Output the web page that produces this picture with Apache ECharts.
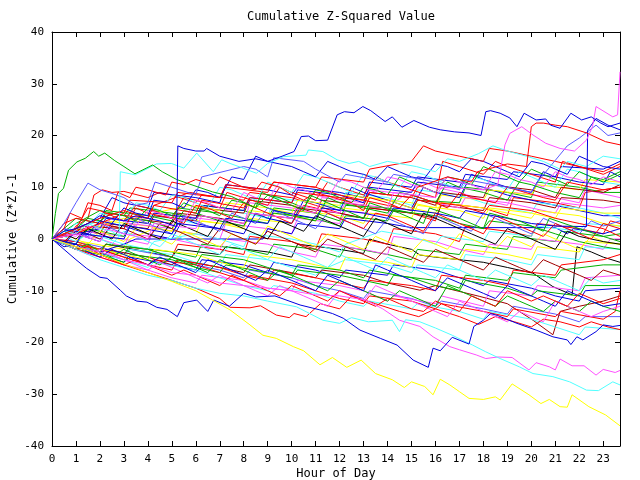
<!DOCTYPE html>
<html>
<head>
<meta charset="utf-8">
<script src="https://cdn.jsdelivr.net/npm/echarts@6/dist/echarts.min.js"></script>
<style>
  html, body { margin: 0; padding: 0; background: #fff; }
  #chart { width: 640px; height: 480px; }
</style>
</head>
<body>
<div id="chart"></div>
<script>
// x axis: hour of day, y axis: cumulative (z*z)-1, one line per day
const hourTicks = [0, 23.7];
const yTicks = [-40, 40];

// [hour, value]
const blueTop = [[0,0],[0.5,1.5],[1,2],[1.5,3],[2,4.5],[2.5,4],[3,3.5],[3.5,4.5],[4,4],[4.5,3.5],[5.2,2.4],[5.25,18],[5.5,17.5],[6,17],[6.35,17],[6.45,17.5],[7,16],[7.8,15],[8.5,15.5],[9,15],[9.6,16],[10.1,16.9],[10.4,19.8],[10.7,19.9],[11,19],[11.5,19.1],[11.9,24],[12.2,24.6],[12.6,24.4],[12.97,25.6],[13.3,24.8],[13.9,22.7],[14.2,23.6],[14.6,21.6],[15.1,22.9],[15.75,21.6],[16.2,21.1],[16.8,20.7],[17.4,20.5],[17.9,20],[18.1,24.6],[18.3,24.8],[18.7,24.3],[19.1,23.4],[19.4,21.7],[19.7,24.3],[20.2,23],[20.6,23.2],[20.8,22],[21.2,21.4],[21.65,24.3],[22.1,23],[22.5,23.6],[22.9,22.4],[23.2,21.7],[23.7,22.4]];
const greenEarly = [[0,0],[0.14,4.9],[0.27,8.8],[0.48,9.8],[0.69,13.3],[1.04,14.9],[1.39,15.6],[1.74,16.9],[1.95,16],[2.2,16.6],[2.6,15.2],[3,14],[3.46,12.6],[4.2,14.3],[4.6,13],[5.2,11.5],[5.75,10.6],[6.7,9.1],[7.5,8.2],[8.5,6],[8.75,9],[9.5,7.5],[10.5,5.5],[10.75,8.5],[12,6],[13,4],[13.25,7],[14.5,5],[15.5,3],[15.75,6],[17,4],[18,2],[18.25,5],[19.5,3.5],[20.5,1.5],[20.75,4],[22,2],[23,0.5],[23.7,-0.5]];
const yellowBottom = [[0,0],[1,-1.5],[2,-3],[3,-4.8],[4,-6.5],[5,-8.2],[6,-10],[6.7,-11.8],[7.43,-13.7],[8.26,-16.6],[8.8,-18.6],[9.36,-19.2],[10.07,-20.8],[10.5,-21.6],[11.18,-24.3],[11.7,-22.9],[12.3,-24.8],[12.9,-23.4],[13.5,-26],[14.2,-27.2],[14.7,-28.7],[15,-27.6],[15.55,-28.5],[15.9,-30.1],[16.2,-27.1],[16.6,-28.2],[17,-29.5],[17.4,-30.8],[18,-31],[18.5,-30.5],[18.7,-31.1],[19.2,-28],[19.9,-30.1],[20.4,-31.8],[20.75,-31],[21.2,-32.4],[21.5,-32.5],[21.7,-30.1],[22.4,-32.4],[23.1,-34],[23.7,-36.1]];
const blueBottom = [[0,0],[0.5,-2],[1,-4],[1.45,-5.7],[2,-7.4],[2.3,-7.6],[2.85,-9.9],[3.1,-11],[3.54,-12],[3.96,-12.2],[4.37,-13.2],[4.8,-13.6],[5.23,-15],[5.5,-12.3],[6.04,-11.8],[6.5,-14],[6.75,-11.8],[7.4,-13],[8,-10.5],[8.5,-11.2],[9.3,-11],[10.35,-12.75],[11.18,-13.7],[11.7,-14.4],[12.15,-15.3],[12.85,-17.6],[13.7,-19.2],[14.4,-20.5],[15.07,-23.4],[15.7,-24.8],[15.9,-21.1],[16.2,-21.6],[16.7,-19],[17.4,-20.3],[17.6,-16.9],[18,-15.7],[18.3,-14.4],[18.6,-14.8],[19.4,-16.3],[20.2,-17.6],[20.9,-18.9],[21.5,-19.5],[21.65,-20.4],[21.9,-18.9],[22.15,-19.5],[22.7,-17.9],[23,-16.6],[23.4,-16.9],[23.7,-16.7]];
const cyanLow = [[0,0],[1,-2],[2,-4],[3,-5.5],[4,-7],[5,-8],[6,-9.5],[7,-10.5],[8,-11],[9,-12],[10.2,-13.1],[11.3,-15.7],[12,-16.3],[12.5,-15.2],[13.2,-16],[14.2,-15.7],[14.5,-17.9],[14.75,-15.6],[15.35,-16],[16,-17.2],[16.7,-18.6],[17.55,-20.5],[18.1,-21.8],[18.7,-23.1],[19.5,-24.7],[20.07,-26],[20.9,-26.6],[21.6,-27.6],[22.3,-29.2],[22.8,-29.3],[23.4,-27.6],[23.7,-28.2]];
const magentaLow = [[0,0],[1,-1.5],[2,-2.5],[3,-4],[4,-5],[5,-6.5],[6,-7],[7,-8.5],[8,-9],[9,-9.5],[10,-10],[11,-10.8],[12,-11],[13.1,-11.8],[13.8,-13.5],[14.5,-15.7],[15.35,-16.9],[15.9,-18.9],[16.6,-20.8],[17,-21.4],[17.7,-22.4],[18.1,-23.1],[18.6,-22.8],[19.2,-22.9],[19.9,-25.3],[20.2,-23.9],[20.75,-24.7],[21,-25.3],[21.2,-23.2],[21.7,-24.5],[22.2,-24.5],[22.7,-26.3],[23,-25.2],[23.5,-25.8],[23.7,-25.4]];
const magentaTop = [[0,0],[1,1],[2,-0.5],[2.25,2],[3,1],[4,0],[4.25,3],[6,2],[6.25,4.5],[8,3],[8.25,5],[10,4],[10.25,6.5],[12,5],[12.25,7],[14,6],[14.25,9],[16,8],[16.25,10],[18,9.5],[18.6,10.5],[18.9,18.2],[19.1,20.4],[19.6,21.7],[20.07,20.1],[20.6,18.5],[21.2,17.5],[21.8,17],[22.3,19.1],[22.55,21.7],[22.7,25.6],[23.4,23.6],[23.6,24],[23.7,32.3]];
const redTopRight = [[0,0],[1,2],[2,4],[3,5.5],[4,4],[4.25,6.5],[6,5],[6.25,7.5],[8,6],[8.25,8],[10,7],[10.25,9],[12,8],[13,7.5],[13.25,9],[15,8],[15.25,10],[16.5,12],[17.5,11],[17.75,13],[19,14.5],[19.8,14],[20,21.7],[20.2,22.4],[20.5,22.4],[21,22],[21.5,21.7],[22.3,20.5],[23.1,18.8],[23.7,18.2]];
const cyanTop = [[0,0],[0.5,1.5],[1,1],[1.5,3],[2,2],[2.5,1.5],[2.8,0.5],[2.85,13],[3.47,12.4],[4.36,14.5],[4.98,14.6],[5.5,13.7],[6.04,16.6],[6.73,13],[7.08,15.3],[7.43,14.6],[7.97,13.7],[8.53,12.7],[9,14.6],[9.65,15.9],[10.6,16.2],[10.7,17.2],[11.3,16.9],[11.9,15.3],[12.4,14.6],[12.8,15],[13.25,14],[14,15],[15.2,14],[16,13],[16.5,15.5],[17,15],[17.8,16.5],[18.4,18],[19,17],[19.8,16],[20.5,15],[21.2,13.5],[21.5,15],[22.3,14],[23,16],[23.7,15.5]];
const blueRight = [[0,0],[1,-1],[1.25,1],[3,0],[3.25,2.5],[5,1],[5.25,3],[7,2],[7.25,4],[9,3],[9.25,5.5],[11,4],[11.25,6],[13,5],[14,4],[14.25,6],[16,5],[17,4],[17.25,5.5],[19,4],[20,3],[21,2.5],[22.3,2.4],[22.35,21],[22.7,23.3],[23.2,22],[23.7,21.1]];
const slateUpper = [[0,0],[0.5,3],[1,7],[1.5,10.8],[2,9.5],[2.5,8.8],[3,8],[3.5,6.5],[4,7],[4.3,11],[5,10],[6,8.5],[6.25,12],[8,14],[8.5,13.5],[9,12],[9.25,15.7],[10.5,15],[11,13.5],[12,11],[12.25,12.5],[14,11],[14.25,12.5],[16,11],[17,9.5],[17.25,11.5],[19,10],[20,9],[20.25,11],[21.5,18],[22,19.5],[22.7,22],[23.2,20],[23.7,20.5]];

// the dense middle
const red1 = [[0,0],[1,1.5],[2,3],[3,2],[3.5,6],[4,5],[5,4],[5.5,8],[6,7.5],[7,6],[7.3,9],[8,8],[9,6.5],[9.5,10],[10,9],[11,7.5],[11.5,11],[12,10],[13,8.5],[13.5,12],[14,11],[15,9.5],[16,8],[16.3,15],[17,14],[18,12.5],[18.5,15],[19,14],[20,12.5],[21,11],[21.3,15],[22,14],[23,12.5],[23.7,14]];
const green2 = [[0,0],[1,-1],[1.5,2],[2,1.5],[3,0.5],[3.5,4],[4,3.5],[5,2],[5.5,5.5],[6,5],[7,3.5],[8,2.5],[8.5,7],[9,6],[10,4.5],[11,3.5],[11.5,8],[12,7],[13,6],[14,5],[14.5,9],[15,8.5],[16,7],[16.5,11],[17,10],[18,9],[19,7.5],[19.5,11],[20,10.5],[21,9],[22,8],[22.5,12],[23,11.5],[23.7,13]];
const blue3 = [[0,0],[0.5,2],[1,1],[2,-0.5],[2.5,3],[3,2.5],[4,1],[5,0],[5.5,4],[6,3],[7,2],[8,1],[8.5,5],[9,4],[10,3],[10.5,7.5],[11,7],[12,5.5],[12.5,10],[13,9],[14,7.5],[15,6],[15.5,10],[16,9],[17,8],[17.5,12.5],[18,11.5],[19,10],[20,9],[20.5,13],[21,12],[22,11],[23,10.5],[23.3,13],[23.7,12]];
const yellow4 = [[0,0],[1,2],[2,1],[2.25,3.5],[4,2.5],[5,1.5],[5.25,4],[7,3],[8,2],[8.25,5.5],[10,4.5],[11,3.5],[11.25,6.5],[13,5.5],[13.25,8],[15,7],[16,6],[16.25,8.5],[18,7.5],[18.25,9.5],[20,8.5],[20.25,10.5],[22,9.5],[22.25,11.5],[23.7,11]];
const red5 = [[0,0],[0.5,-1],[1,2.5],[1.5,4],[1.75,8.5],[2.1,9.5],[2.5,9],[3,9.2],[4,8],[4.5,9],[5,8.5],[6,7],[6.25,8.5],[8,7.5],[8.25,9],[10,8],[11,6.5],[12,5],[13,4],[13.25,6],[15,5],[16,3.5],[16.25,7],[18,6],[19,4.5],[19.25,8],[21,7],[22,6],[22.25,9],[23.7,10]];
const green6 = [[0,0],[1,3],[2,5.5],[3,4.5],[3.25,6],[5,5],[6,4],[6.25,6.5],[8,5.5],[9,4],[9.25,6],[11,5],[12,3.5],[12.25,6.5],[14,6],[15,5],[15.25,7.5],[17,7],[17.25,10],[19,9],[20,8],[20.25,11],[22,10],[23,9],[23.7,9]];
const magenta7 = [[0,0],[1,-0.5],[1.25,1],[3,0],[4,-1],[4.25,2],[6,1],[7,0],[7.25,3],[9,2],[10,1],[10.25,4],[12,3],[12.25,5.5],[14,4.5],[14.25,7],[15.5,11],[16,10],[17,9],[18,7.5],[19,6.5],[19.25,9],[21,8],[22,7],[22.25,9.5],[23.7,8]];
const darkred8 = [[0,0],[1,1],[1.25,2.5],[3,2],[3.25,4],[5,3],[5.25,5],[7,4],[8,3],[8.25,5],[10,4],[10.25,6],[12,5],[13,4],[13.25,6],[15,5],[16,4],[16.25,6.5],[18,5.5],[18.25,8],[20,7],[21,6],[21.25,8],[23,7.5],[23.7,7]];
const black9 = [[0,0],[1,-1],[2,-2],[2.25,-1],[4,-2.5],[5,-3.5],[5.25,-2],[7,-3],[7.25,-1.5],[9,-2.5],[10,-3.5],[10.25,-1],[12,-2],[13,-2.8],[13.25,0],[14,-1],[15,-2],[15.35,-3.1],[16,-3.5],[17,-4],[18,-4.5],[19,-5.5],[20.07,-6.6],[20.9,-9.2],[21.7,-10.8],[21.9,-1.5],[22.5,-2.5],[23,-3.5],[23.7,-4.5]];
const yellow10 = [[0,0],[1,-1.5],[1.25,-0.5],[3,-2],[3.25,0],[4.25,2],[6,1],[6.25,3.5],[8,2.5],[8.25,4],[10,3],[10.25,5.5],[12,4.5],[13,3],[13.25,5],[15,4],[15.25,6.5],[17,5.5],[18,4],[18.25,6],[20,5],[21,4],[21.25,6],[23,5],[23.7,5]];
const cyan11 = [[0,0],[1,2],[2,3.5],[3,2.5],[3.25,5],[5,4],[6,3],[6.25,6],[8,5],[9,4],[9.25,8],[11,7],[12,6],[12.25,9],[14,8],[15,6.5],[15.25,9.5],[17,8.5],[18,7],[19,6],[20,5],[20.25,7],[22,6],[23,5],[23.7,4]];
const red12 = [[0,0],[1,-2],[2,-3],[2.25,-1],[4,-2],[5,-3.5],[5.25,-1],[7,-2],[8,-3],[8.25,0.5],[10,-0.5],[11,-2],[11.25,1],[13,0],[14,-1],[14.25,2],[16,1],[17,-0.5],[17.25,2.5],[19,1.5],[20,0.5],[20.25,3],[22,2],[23,1],[23.3,3.5],[23.7,3]];
const blueFlat = [[0,0],[1,-1],[2,-2.5],[3,-1],[3.5,0],[4.3,0],[8.8,0],[9,2],[10,1],[10.25,3],[12,2],[12.25,4],[14,3],[15,2.2],[21,2.2],[21.5,1],[21.75,2],[23,1],[23.7,2]];
const green14 = [[0,0],[1,-1],[2,-2],[3,-3],[3.25,-1.5],[5,-2.5],[6,-3.5],[6.25,-1],[8,-2],[9,-3],[9.25,-1],[11,-2],[12,-3.5],[12.25,-1.5],[14,-3],[15,-4],[15.25,-2],[17,-3],[17.25,-1],[19,-2],[19.25,0.5],[21,-0.5],[21.25,1.5],[23,0.5],[23.7,1]];
const magenta15 = [[0,0],[1,1],[2,0],[3,-1.5],[3.25,1],[5,0],[6,-1],[7,-2],[7.25,0],[9,-1],[10,-2.5],[11,-3.5],[11.25,-1],[13,-2],[14,-3],[14.25,0.5],[16,-0.5],[17,-2],[18,-3],[18.25,-1],[20,-2],[20.25,0],[22,-1],[23,-2],[23.3,0],[23.7,0]];
const yellow16 = [[0,0],[1,-1],[2,-2],[3,-3],[4,-4],[4.25,-2],[6,-3],[7,-4.5],[8,-5.5],[8.25,-3],[10,-4],[11,-5],[12,-6],[12.25,-3.5],[14,-4.5],[15,-5.5],[15.25,-3],[17,-4],[17.25,-2],[19,-3],[20,-4],[20.25,-1.5],[22,-2.5],[22.25,-0.5],[23.7,-1]];
const cyan17 = [[0,0],[1,-1.5],[2,-3],[3,-4],[3.25,-2],[5,-3],[6,-4.5],[7,-5.5],[7.25,-3],[9,-4],[10,-5.5],[11,-7],[11.25,-6],[12.25,-4],[14,-5],[15,-6.5],[15.25,-5],[17,-6],[17.25,-3],[19,-4],[20,-5],[20.25,-3],[22,-4],[22.25,-1.5],[23.7,-2]];
const red18 = [[0,0],[1,-0.5],[2,-2],[3,-3.5],[4,-5],[5,-6],[5.25,-4],[7,-5.5],[8,-7],[9,-8],[9.25,-6],[11,-7.5],[12,-8.5],[13,-9.5],[13.25,-8],[15,-9],[16,-10],[16.25,-7],[18,-8],[19,-9],[19.25,-6],[21,-7],[21.25,-5],[23,-4],[23.7,-3]];
const green19 = [[0,0],[1,-2],[2,-3],[3,-4.5],[3.25,-3],[5,-4],[6,-5.5],[7,-6.5],[7.25,-5],[9,-6.5],[10,-7.5],[10.25,-6],[12,-7],[13,-8],[14,-9],[14.25,-7],[16,-8],[17,-9.5],[17.25,-7],[19,-8],[19.25,-6.5],[21,-7.5],[21.25,-6],[23,-5],[23.7,-5]];
const magenta20 = [[0,0],[1,-2],[2,-3.5],[3,-5],[4,-6],[5,-7.5],[6,-8.5],[6.25,-7],[8,-8],[9,-9.5],[10,-10],[10.25,-8],[12,-9],[13,-10],[14,-12],[14.25,-11],[16,-12.5],[16.25,-11],[18,-13],[18.25,-10],[20,-11],[20.25,-9],[22,-10],[22.25,-7.5],[23.7,-7]];
const darkred21 = [[0,0],[1,-1.5],[2,-3],[2.25,-2],[4,-3.5],[5,-5],[5.25,-4],[7,-5.5],[8,-6.5],[8.25,-5],[10,-6.5],[11,-7.5],[11.25,-6],[13,-7],[14,-8.5],[15.35,-9.9],[16,-9],[17.85,-11.1],[19,-12.5],[20.07,-15.7],[20.9,-18.5],[21.2,-14],[22,-13],[23,-12],[23.7,-11]];
const red22 = [[0,0],[1,-1],[2,-2],[3,-3.5],[4,-5],[4.25,-4],[6,-5],[7,-6.5],[8,-8],[8.25,-7],[10,-8.5],[11,-10],[12,-11.5],[13,-12.5],[13.25,-11],[15,-12],[16,-13.5],[16.25,-12.5],[18,-14],[19,-15],[19.25,-13.5],[21,-15],[21.25,-14],[23,-15.5],[23.5,-14],[23.7,-10]];
const red23 = [[0,0],[1,-2],[2,-3.5],[3,-5],[4,-6.5],[5,-8],[6,-9.5],[7,-11.5],[7.43,-13.2],[8.26,-13.3],[8.7,-12.9],[9.36,-14.7],[9.9,-15.2],[10.1,-14.4],[10.6,-15],[11.2,-12.5],[12,-13.5],[12.5,-11],[13.5,-12.5],[14.5,-14],[15.3,-15],[16,-13.5],[17,-15],[17.8,-16.5],[18.5,-15],[19.3,-16],[20,-17],[20.5,-15.5],[21.2,-16],[22,-17],[22.5,-16],[23.2,-17],[23.7,-17.5]];
const slate24 = [[0,0],[1,-0.5],[2,-1.5],[3,-3],[3.25,-2],[5,-3.5],[6,-5],[7,-6],[8,-7.5],[8.25,-6],[10,-7.5],[11,-9],[12,-10],[13,-11.5],[13.25,-10],[15,-11.5],[16,-13],[16.25,-12],[18,-13.5],[19,-14.5],[19.25,-13],[21,-14.5],[22,-16],[22.25,-15],[23.7,-15]];
const cyan25 = [[0,0],[1,-1],[2,-2.5],[3,-4],[4,-5.5],[4.25,-4.5],[6,-6],[7,-7.5],[8,-9],[9,-10],[9.25,-9],[11,-10.5],[12,-12],[13,-13],[13.25,-12],[15,-13.5],[15.25,-12.5],[17,-14],[18,-15.5],[18.25,-14],[20,-15.5],[21,-17],[22,-18.5],[22.25,-17],[23.7,-17.5]];
const blue26 = [[0,0],[1,2],[2,4],[2.5,8],[3,7],[4,6],[4.25,9],[6,8],[7,7],[7.25,10.5],[9,9.5],[10,8.5],[10.25,10],[12,9],[13,8],[13.25,11],[15,10],[15.25,12],[17,11],[18,10],[19,8.5],[20,7.5],[21,6.5],[22,5.5],[23,4.5],[23.7,4.5]];
const green27 = [[0,0],[0.5,2],[1,4],[2,3],[2.25,5.5],[4,4.5],[5,3.5],[5.25,6],[7,5],[8,4],[9,3],[9.25,5],[11,4],[12,2.5],[12.25,4.5],[14,3.5],[14.25,5.5],[16,4.5],[17,3],[18,2],[18.25,3.5],[20,2.5],[21,1],[22,-0.5],[23,-1.5],[23.7,-2]];
const blue28 = [[0,0],[1,-1.5],[2,-3],[3,-4.5],[3.25,-3.5],[5,-5],[6,-6],[6.25,-4],[8,-5],[9,-6.5],[9.25,-4.5],[11,-6],[12,-7.5],[12.25,-6],[14,-7],[14.25,-5],[16,-6],[17,-7.5],[18,-9],[18.25,-8],[20,-9.5],[21,-11],[22,-12],[22.25,-10],[23.7,-9.5]];
const yellow29 = [[0,0],[1,1],[2,2.5],[3,4],[4,3],[4.25,5],[5.75,6.5],[7,5.5],[7.25,7],[9,6],[10,5],[10.25,7.5],[12,6.5],[12.25,8.5],[14,7.5],[15,6],[16,5],[16.25,7],[18,6],[19,5],[20,4],[20.25,5.5],[22,4.5],[23,3],[23.7,2.5]];
const magenta30 = [[0,0],[1,-1],[1.25,1.5],[3,0.5],[3.25,3],[5,2],[5.25,4.5],[7,3.5],[8,2.5],[8.25,7],[10,6],[11,5],[11.25,8],[13,7],[13.25,9.5],[15,8.5],[16,7],[17,6],[17.25,8],[19,7],[20,6],[21,5],[21.25,7],[23,6],[23.7,6.5]];
const red31 = [[0,0],[0.5,3],[1,4],[2,3],[2.25,5],[4,4],[4.25,6.5],[5.75,9],[7,8],[7.25,10],[9,9],[9.25,11],[11,10],[12,8.5],[13,7.5],[14,6.5],[15,5.5],[15.25,7.5],[17,6.5],[18,5],[18.25,6.5],[20,5.5],[21,4],[22,3],[23,2],[23.7,0.5]];
const cyan32 = [[0,0],[1,1.5],[2,0.5],[3,-1],[4,-2],[4.25,-0.5],[6,1],[7,0],[8,-1.5],[8.25,1],[10,0],[11,-1],[12,-2.5],[12.25,-1],[13.75,1.5],[15,0.5],[16,-1],[16.25,0.5],[18,-0.5],[18.25,1.5],[20,0.5],[20.25,2.5],[22,1.5],[22.25,3],[23.7,2.5]];
const darkred33 = [[0,0],[1,2],[2,1],[2.25,3],[4,2],[4.25,4.5],[6,3.5],[6.25,6],[8,5],[8.25,7.5],[10,6.5],[11,5],[11.25,7.5],[13,6.5],[13.25,9],[15,8],[16,6.5],[16.25,9],[18,8],[18.25,10.5],[20,9.5],[21,8],[21.25,10],[23,9],[23.7,10.5]];
const green34 = [[0,0],[1,-1.5],[2,-2.5],[2.25,-1],[4,-2],[5,-3.5],[6,-5],[6.25,-3],[8,-4],[9,-5.5],[10,-7],[10.25,-5],[12,-6],[13,-7.5],[13.25,-6],[15,-7.5],[16,-9],[17,-10],[17.25,-8],[19,-9.5],[20,-11],[20.25,-10],[22,-11],[22.25,-9],[23.7,-9]];
const blue35 = [[0,0],[1,1],[2,2],[2.25,4],[4,3],[4.25,5],[6,4],[6.25,6.5],[8,5.5],[8.25,8],[10,7],[10.25,9.5],[12,8.5],[13,7],[13.25,10],[15,9],[15.25,11],[17,10],[17.25,12.5],[19,11.5],[19.25,13],[21,12],[21.25,14],[23,13.5],[23.7,15]];
const red36 = [[0,0],[1,1],[2,3],[3,5],[3.25,7.5],[5,7],[5.25,9],[7,8],[7.25,10.5],[9,9.5],[9.25,11],[11,10],[11.25,12],[13,11],[13.25,13.5],[15,15],[15.5,18],[16,17],[17,16],[18,15],[18.25,17.5],[19,17],[20,16],[21,15],[22,14],[23,13],[23.7,14.5]];
const red37 = [[0,0],[0.5,2],[0.75,5],[1.25,4],[1.5,7],[2,6.5],[2.5,5.5],[2.75,9],[3.25,8],[3.5,10],[4,9.5],[4.75,8.5],[5,11],[5.5,10.5],[6,11.5],[6.75,10.5],[7,12],[7.5,11],[8,10],[8.5,9.5],[8.75,11],[9.5,10],[10,8.5],[10.5,7.5],[11,9],[11.75,8],[12.5,7],[13,5.5],[13.25,8],[14,7],[14.5,6],[15,8.5],[16,7],[16.5,6],[17,9],[17.5,8],[18.5,7],[19,10],[19.75,9],[20.5,8],[21,7.5],[21.5,11],[22.5,10],[23,9.5],[23.7,10]];
const blue38 = [[0,0],[0.5,-1],[1,1.5],[1.5,1],[2,3.5],[2.5,3],[3,6],[3.5,5],[4,4.5],[4.25,7.5],[5,7],[5.5,6],[6,9.5],[6.5,9],[7,8],[7.5,12],[8,11.5],[8.5,16],[9,15],[9.5,14.5],[10,14],[10.5,13],[11,12],[11.5,15],[12,14],[12.5,13],[13,12.5],[13.5,11.5],[14,14],[14.5,13],[15,12],[15.5,11.5],[16,14.5],[16.5,14],[17,13],[17.5,15.5],[18,15],[18.5,14],[19,13],[19.5,12],[20,15],[20.5,14.5],[21,13.5],[21.5,12.5],[22,16],[22.5,15],[23,14],[23.7,13.5]];
const magenta39 = [[0,0],[0.5,1],[1,0.5],[1.5,2.5],[2,2],[2.5,4],[3,3.5],[3.5,2.5],[4,5.5],[4.5,5],[5,4],[5.5,3.5],[6,7.5],[6.5,7],[7,6],[7.5,5.5],[8,9],[8.5,8],[9,7.5],[9.5,11],[10,10],[10.5,9.5],[11,8.5],[11.5,8],[12,11.5],[12.5,11],[13,10],[13.5,9],[14,12],[14.5,11.5],[15,10.5],[15.5,10],[16,9],[16.5,12],[17,11],[17.5,10.5],[18,9.5],[18.5,13],[19,12.5],[19.5,11.5],[20,11],[20.5,10],[21,13],[21.5,12],[22,11.5],[22.5,10.5],[23,12],[23.7,11]];
const green40 = [[0,0],[0.5,-1],[1,-2],[1.5,-1],[2,-2.5],[2.5,-3.5],[3,-2],[3.5,-3],[4,-4],[4.5,-5],[5,-3.5],[5.5,-4.5],[6,-5.5],[6.5,-6.5],[7,-4],[7.5,-5],[8,-6],[8.5,-7],[9,-8],[9.5,-6],[10,-7],[10.5,-8],[11,-9],[11.5,-10],[12,-8],[12.5,-9],[13,-10],[13.5,-11],[14,-12],[14.5,-10],[15,-11],[15.5,-12],[16,-13],[16.5,-9],[17,-10],[17.5,-11],[18,-12],[18.5,-13],[19,-11],[19.5,-12],[20,-13],[20.5,-14],[21,-12],[21.5,-13],[22,-14],[22.5,-12],[23,-13],[23.7,-14]];
const cyan41 = [[0,0],[0.5,0.5],[1,-0.5],[1.5,1],[2,0],[2.5,-1],[3,1.5],[3.5,0.5],[4,-0.5],[4.5,-1.5],[5,1],[5.5,0],[6,-1],[6.5,-2],[7,-3],[7.5,-1],[8,-2],[8.5,-3],[9,-4],[9.5,-1.5],[10,-2.5],[10.5,-3.5],[11,-4.5],[11.5,-5.5],[12,-3],[12.5,-4],[13,-5],[13.5,-6],[14,-3.5],[14.5,-4.5],[15,-5.5],[15.5,-6.5],[16,-7.5],[16.5,-5],[17,-6],[17.5,-7],[18,-8],[18.5,-6],[19,-7],[19.5,-8],[20,-9],[20.5,-7],[21,-8],[21.5,-9],[22,-10],[22.5,-7.5],[23,-8.5],[23.7,-8]];
const red42 = [[0,0],[0.5,-1],[1,-2],[1.5,-1.5],[2,-3],[2.5,-4],[3,-5],[3.5,-4],[4,-5],[4.5,-6],[5,-7],[5.5,-6],[6,-7],[6.5,-8],[7,-9],[7.5,-7],[8,-8],[8.5,-9],[9,-10],[9.5,-11],[10,-9],[10.5,-10],[11,-11],[11.5,-12],[12,-10],[12.5,-11],[13,-12],[13.5,-13],[14,-11.5],[14.5,-12.5],[15,-13.5],[15.5,-14],[16,-12],[16.5,-13],[17,-14],[17.5,-11],[18,-12],[18.5,-13],[19,-10],[19.5,-11],[20,-12],[20.5,-11],[21,-12],[21.5,-13],[22,-10.5],[22.5,-11.5],[23,-12.5],[23.7,-11.5]];
const blue43 = [[0,0],[0.5,-1.5],[1,-1],[1.5,-2.5],[2,-3.5],[2.5,-2],[3,-3],[3.5,-4],[4,-5],[4.5,-3.5],[5,-4.5],[5.5,-5.5],[6,-6.5],[6.5,-4],[7,-5],[7.5,-6],[8,-7],[8.5,-8],[9,-6],[9.5,-7],[10,-8],[10.5,-9],[11,-10],[11.5,-7],[12,-8],[12.5,-9],[13,-10],[13.5,-5],[14,-6],[14.5,-7],[15,-8],[15.5,-9],[16,-10],[16.5,-7.5],[17,-8.5],[17.5,-9.5],[18,-10.5],[18.5,-11.5],[19,-9],[19.5,-10],[20,-11],[20.5,-12],[21,-13],[21.5,-10],[22,-11],[22.5,-12],[23,-13],[23.7,-12.5]];
const yellow44 = [[0,0],[0.5,1],[1,0],[1.5,-1],[2,1.5],[2.5,0.5],[3,-0.5],[3.5,2],[4,1],[4.5,0],[5,-1],[5.5,1.5],[6,0.5],[6.5,-0.5],[7,-1.5],[7.5,1],[8,0],[8.5,-1],[9,2.5],[9.5,1.5],[10,0.5],[10.5,-0.5],[11,-1.5],[11.5,1],[12,0],[12.5,-1],[13,-2],[13.5,0.5],[14,-0.5],[14.5,-1.5],[15,-2.5],[15.5,0],[16,-1],[16.5,-2],[17,1],[17.5,0],[18,-1],[18.5,-2],[19,0.5],[19.5,-0.5],[20,-1.5],[20.5,1],[21,0],[21.5,-1],[22,-2],[22.5,0.5],[23,-0.5],[23.7,-1]];
const magenta45 = [[0,0],[0.5,-1],[1,-2],[1.5,-3],[2,-2],[2.5,-3],[3,-4],[3.5,-5],[4,-6],[4.5,-4.5],[5,-5.5],[5.5,-6.5],[6,-7.5],[6.5,-8.5],[7,-7],[7.5,-8],[8,-9],[8.5,-10],[9,-11],[9.5,-9],[10,-10],[10.5,-11],[11,-12],[11.5,-13],[12,-10],[12.5,-11],[13,-12],[13.5,-9],[14,-10],[14.5,-11],[15,-12],[15.5,-13],[16,-14],[16.5,-15],[17,-12],[17.5,-13],[18,-14],[18.5,-15],[19,-16],[19.5,-14],[20,-15],[20.5,-16],[21,-12],[21.5,-13],[22,-14],[22.5,-15],[23,-14],[23.7,-13]];
const green46 = [[0,0],[0.5,1],[1,2],[1.5,4],[2,3.5],[2.5,5],[3,4.5],[3.5,3.5],[4,6],[4.5,5.5],[5,4.5],[5.5,7],[6,6],[6.5,5.5],[7,4.5],[7.5,7.5],[8,7],[8.5,6],[9,8.5],[9.5,8],[10,7],[10.5,6],[11,9.5],[11.5,9],[12,8],[12.5,7],[13,10],[13.5,9.5],[14,8.5],[14.5,12],[15,11],[15.5,10],[16,9],[16.5,12],[17,11.5],[17.5,10.5],[18,14],[18.5,13],[19,12],[19.5,11],[20,13.5],[20.5,12.5],[21,11.5],[21.5,10.5],[22,13],[22.5,12],[23,11],[23.7,12.5]];
const darkred47 = [[0,0],[0.5,-0.5],[1,1.5],[1.5,1],[2,0],[2.5,2.5],[3,2],[3.5,1],[4,0],[4.5,3],[5,2],[5.5,1],[6,0],[6.5,-1],[7,2],[7.5,1],[8,0],[8.5,-1],[9,1.5],[9.5,0.5],[10,-0.5],[10.5,-1.5],[11,-2.5],[11.5,0],[12,-1],[12.5,-2],[13,-3],[13.5,-4],[14,-1.5],[14.5,-2.5],[15,-3.5],[15.5,-4.5],[16,-2],[16.5,-3],[17,-4],[17.5,-5],[18,-6],[18.5,-3.5],[19,-4.5],[19.5,-5.5],[20,-6.5],[20.5,-4],[21,-5],[21.5,-6],[22,-7],[22.5,-8],[23,-6],[23.7,-7]];
const slate48 = [[0,0],[0.5,2],[1,1.5],[1.5,0.5],[2,3],[2.5,2],[3,1],[3.5,4],[4,3],[4.5,2],[5,1],[5.5,4.5],[6,3.5],[6.5,2.5],[7,1.5],[7.5,5],[8,4],[8.5,3],[9,6],[9.5,5],[10,4],[10.5,3],[11,2],[11.5,5],[12,4],[12.5,3],[13,2],[13.5,1],[14,4],[14.5,3],[15,2],[15.5,1],[16,4.5],[16.5,3.5],[17,2.5],[17.5,1.5],[18,5],[18.5,4],[19,3],[19.5,2],[20,1],[20.5,4],[21,3],[21.5,2],[22,1],[22.5,3.5],[23,2.5],[23.7,3.5]];
const cyan49 = [[0,0],[0.5,1],[1,3],[1.5,2.5],[2,5],[2.5,4.5],[3,3.5],[3.5,7],[4,6.5],[4.5,5.5],[5,8.5],[5.5,8],[6,7],[6.5,6],[7,10],[7.5,9.5],[8,8.5],[8.5,7.5],[9,11],[9.5,10],[10,9],[10.5,12.5],[11,12],[11.5,11],[12,10],[12.5,9],[13,12.5],[13.5,12],[14,11],[14.5,10],[15,13],[15.5,12.5],[16,11.5],[16.5,10.5],[17,9.5],[17.5,12],[18,11.5],[18.5,10.5],[19,9.5],[19.5,13],[20,12],[20.5,11],[21,10],[21.5,13.5],[22,13],[22.5,12],[23,11],[23.7,10.5]];
const red50 = [[0,0],[0.5,1],[1,2],[1.5,6],[2,5.5],[2.5,4.5],[3,3.5],[3.5,6.5],[4,6],[4.5,5],[5,4],[5.5,3],[6,6.5],[6.5,6],[7,5],[7.5,4],[8,7],[8.5,6],[9,5],[9.5,4],[10,3],[10.5,6.5],[11,6],[11.5,5],[12,4],[12.5,3],[13,2],[13.5,5],[14,4.5],[14.5,3.5],[15,2.5],[15.5,1.5],[16,5],[16.5,4],[17,3],[17.5,2],[18,1],[18.5,4.5],[19,3.5],[19.5,2.5],[20,1.5],[20.5,0.5],[21,3],[21.5,2],[22,1],[22.5,0],[23,3],[23.7,2]];
const black51 = [[0,0],[0.5,1],[1,0],[1.5,2],[2,1],[2.5,0],[3,3],[3.5,2],[4,1],[4.5,0],[5,3.5],[5.5,2.5],[6,1.5],[6.5,0.5],[7,4],[7.5,3],[8,2],[8.5,1],[9,0],[9.5,3.5],[10,2.5],[10.5,1.5],[11,4.5],[11.5,3.5],[12,2.5],[12.5,1.5],[13,0.5],[13.5,4],[14,3],[14.5,2],[15,1],[15.5,5],[16,4],[16.5,3],[17,2],[17.5,1],[18,0],[18.5,-1],[19,2],[19.5,1],[20,0],[20.5,-1],[21,-2],[21.5,1.5],[22,0.5],[23,-0.5],[23.7,-1]];

const RED = '#ff0000', GREEN = '#00b000', BLUE = '#0000e0', MAGENTA = '#ff50ff',
      CYAN = '#50ffff', DARKRED = '#a00000', YELLOW = '#ffff00', BLACK = '#000000',
      SLATE = '#5a5aff';

const lines = [
  [red5, RED], [green6, GREEN], [blue26, BLUE], [magenta7, MAGENTA], [cyan11, CYAN],
  [darkred8, DARKRED], [yellow4, YELLOW], [black9, BLACK], [slate24, SLATE],
  [red12, RED], [green14, GREEN], [blue28, BLUE], [magenta15, MAGENTA], [cyan17, CYAN],
  [darkred21, DARKRED], [yellow10, YELLOW], [red18, RED], [green19, GREEN], [blueFlat, BLUE],
  [magenta20, MAGENTA], [cyan25, CYAN], [darkred33, DARKRED], [yellow16, YELLOW],
  [red22, RED], [green27, GREEN], [blue3, BLUE], [magenta30, MAGENTA], [cyan32, CYAN],
  [yellow29, YELLOW], [red23, RED], [green34, GREEN], [blue35, BLUE], [red31, RED],
  [green2, GREEN], [red1, RED],
  [yellow44, YELLOW], [cyan41, CYAN], [green40, GREEN], [darkred47, DARKRED], [slate48, SLATE],
  [magenta45, MAGENTA], [blue43, BLUE], [red42, RED], [cyan49, CYAN], [green46, GREEN],
  [black51, BLACK], [red50, RED], [magenta39, MAGENTA], [blue38, BLUE], [red37, RED],
  [red36, RED], [slateUpper, SLATE],
  [cyanTop, CYAN], [blueRight, BLUE], [redTopRight, RED], [magentaTop, MAGENTA],
  [magentaLow, MAGENTA], [cyanLow, CYAN], [blueBottom, BLUE], [yellowBottom, YELLOW],
  [greenEarly, GREEN], [blueTop, BLUE]
];

const FONT = 'DejaVu Sans Mono';
const chart = echarts.init(document.getElementById('chart'), null, { renderer: 'canvas' });

const xCommon = {
  type: 'value', min: hourTicks[0], max: hourTicks[1], interval: 1,
  axisLine: { show: true, onZero: false, lineStyle: { color: '#000', width: 1 } },
  axisTick: { show: true, inside: true, length: 5, lineStyle: { color: '#000' } },
  splitLine: { show: false }
};
const yCommon = {
  type: 'value', min: yTicks[0], max: yTicks[1], interval: 10,
  axisLine: { show: true, onZero: false, lineStyle: { color: '#000', width: 1 } },
  axisTick: { show: true, inside: true, length: 5, lineStyle: { color: '#000' } },
  splitLine: { show: false }
};

chart.setOption({
  animation: false,
  backgroundColor: '#fff',
  title: {
    text: 'Cumulative Z-Squared Value',
    left: 336, top: 6, textAlign: 'center',
    textStyle: { fontFamily: FONT, fontSize: 12, fontWeight: 'normal', color: '#000' }
  },
  grid: { left: 52, right: 20, top: 32, bottom: 34, outerBoundsMode: 'none' },
  xAxis: [
    Object.assign({}, xCommon, {
      position: 'bottom',
      name: 'Hour of Day', nameLocation: 'middle', nameGap: 22, nameMoveOverlap: false,
      nameTextStyle: { fontFamily: FONT, fontSize: 12, color: '#000' },
      axisLabel: { fontFamily: FONT, fontSize: 11, color: '#000', margin: 8 }
    }),
    Object.assign({}, xCommon, { position: 'top', axisLabel: { show: false } })
  ],
  yAxis: [
    Object.assign({}, yCommon, {
      position: 'left',
      name: 'Cumulative (Z*Z)-1', nameLocation: 'middle', nameGap: 33, nameMoveOverlap: false,
      nameTextStyle: { fontFamily: FONT, fontSize: 12, color: '#000' },
      axisLabel: { fontFamily: FONT, fontSize: 11, color: '#000', margin: 8 }
    }),
    Object.assign({}, yCommon, { position: 'right', axisLabel: { show: false } })
  ],
  series: lines.map(function (l) {
    return {
      type: 'line', data: l[0], showSymbol: false, symbol: 'none',
      lineStyle: { color: l[1], width: 1 }, z: 2
    };
  })
});
</script>
</body>
</html>
